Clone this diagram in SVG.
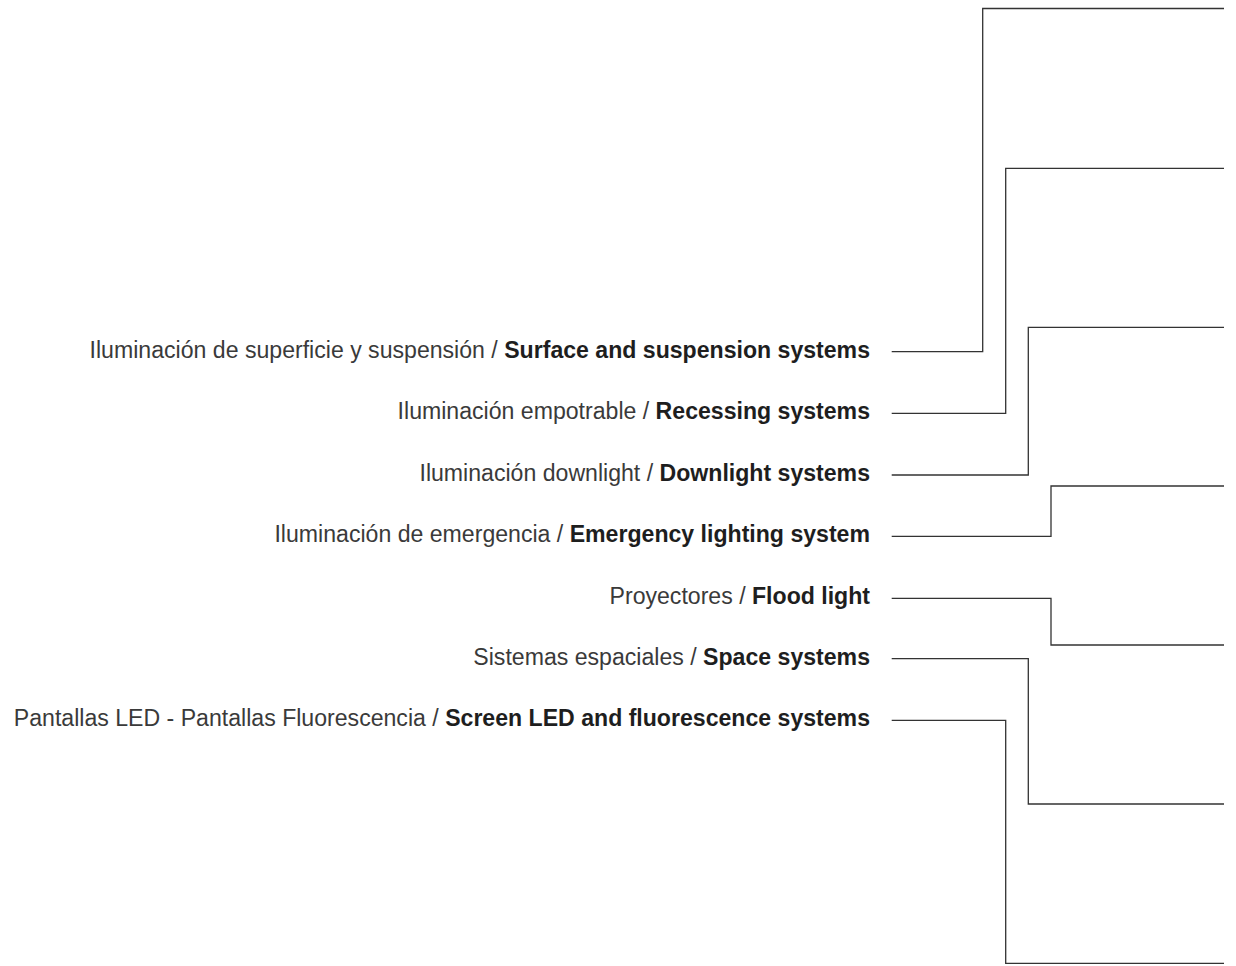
<svg xmlns="http://www.w3.org/2000/svg" width="1236" height="966" viewBox="0 0 1236 966">
<style>
.lbl{font-family:"Liberation Sans",Arial,sans-serif;font-size:23.1px;fill:#3a3a3a;text-anchor:end}
.b{font-weight:bold;fill:#1e1e1e}
.c{fill:none;stroke:#333;stroke-width:1.3}
</style>
<rect width="1236" height="966" fill="#fff"/>
<g id="connectors">
<polyline class="c" points="891.7,351.7 982.7,351.7 982.7,8.5 1224,8.5"/>
<polyline class="c" points="891.7,413.3 1005.7,413.3 1005.7,168.3 1224,168.3"/>
<polyline class="c" points="891.7,475 1028.3,475 1028.3,327.3 1224,327.3"/>
<polyline class="c" points="891.7,536.3 1051,536.3 1051,486 1224,486"/>
<polyline class="c" points="891.7,598.3 1051,598.3 1051,645 1224,645"/>
<polyline class="c" points="891.7,658.7 1028.3,658.7 1028.3,804 1224,804"/>
<polyline class="c" points="891.7,720.3 1005.7,720.3 1005.7,963.3 1224,963.3"/>
</g>
<g id="n1"><text class="lbl" x="870" y="357.5">Iluminación de superficie y suspensión / <tspan class="b">Surface and suspension systems</tspan></text></g>
<g id="n2"><text class="lbl" x="870" y="419">Iluminación empotrable / <tspan class="b">Recessing systems</tspan></text></g>
<g id="n3"><text class="lbl" x="870" y="480.5">Iluminación downlight / <tspan class="b">Downlight systems</tspan></text></g>
<g id="n4"><text class="lbl" x="870" y="542">Iluminación de emergencia / <tspan class="b">Emergency lighting system</tspan></text></g>
<g id="n5"><text class="lbl" x="870" y="603.5">Proyectores / <tspan class="b">Flood light</tspan></text></g>
<g id="n6"><text class="lbl" x="870" y="664.5">Sistemas espaciales / <tspan class="b">Space systems</tspan></text></g>
<g id="n7"><text class="lbl" x="870" y="726">Pantallas LED - Pantallas Fluorescencia / <tspan class="b">Screen LED and fluorescence systems</tspan></text></g>
</svg>
